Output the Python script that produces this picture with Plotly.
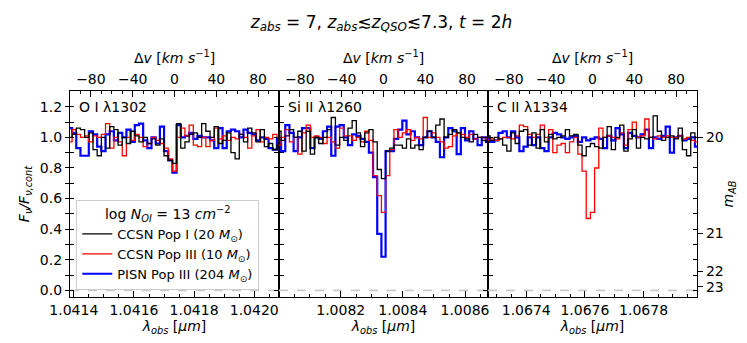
import plotly.graph_objects as go

# --- DATA ---
Z_ABS = 7
LINES = ["O I λ1302", "Si II λ1260", "C II λ1334"]
REST_WAVE = [1302.1685, 1260.4221, 1334.5323]  # Angstrom
VEL = list(range(-104, 105, 4))  # km/s, bin centres

OI_POP1 = [0.94, 1.00, 1.02, 1.06, 1.05, 1.00, 1.03, 0.92, 0.88, 1.00, 0.93, 1.07, 1.05, 0.95, 1.00, 0.96, 1.04, 1.01,
           0.97, 1.00, 0.96, 0.99, 0.95, 0.99, 0.88, 0.85, 0.83,
           1.09, 0.93, 0.97, 1.02, 1.03, 1.00, 1.09, 1.04, 1.00, 1.07, 0.96, 0.98, 1.03, 0.90, 0.86, 1.02, 0.97, 1.06,
           1.03, 0.97, 1.05, 0.94, 0.96, 0.92, 0.95, 0.93]
OI_POP3 = [1.00, 0.97, 1.05, 1.02, 1.00, 1.01, 0.97, 1.01, 1.00, 1.02, 1.09, 0.93, 1.00, 0.97, 0.88, 1.00, 0.98, 1.02,
           1.00, 0.94, 0.96, 1.00, 0.98, 0.96, 0.93, 0.86, 0.78,
           1.00, 1.06, 1.01, 1.08, 0.95, 0.94, 1.00, 0.94, 0.98, 1.06, 0.99, 1.01, 0.98, 1.00, 0.99, 1.02, 1.00, 0.93,
           1.01, 1.05, 0.97, 1.00, 0.99, 1.02, 1.00, 0.98]
OI_PISN = [0.98, 1.06, 1.03, 0.93, 0.88, 0.88, 1.04, 1.02, 0.94, 0.91, 1.02, 1.04, 0.98, 1.03, 1.00, 1.05, 0.97, 1.08,
           1.09, 0.98, 0.93, 1.00, 0.96, 1.07, 0.91, 0.85, 0.77,
           1.08, 1.00, 1.01, 1.03, 0.99, 1.01, 1.00, 1.00, 0.98, 0.93, 1.06, 0.93, 1.04, 1.05, 1.04, 1.00, 1.05, 1.03,
           1.02, 0.98, 1.00, 0.99, 0.93, 0.92, 0.99, 0.95]

SI_POP1 = [1.00, 1.04, 0.98, 1.01, 1.05, 1.00, 1.04, 0.91, 1.04, 0.89, 1.00, 0.96, 1.00, 1.05, 1.13, 0.95, 1.00, 0.98,
           1.06, 1.11, 1.03, 0.94, 1.03, 1.05, 0.97, 0.79, 0.73,
           0.91, 0.93, 0.95, 0.95, 0.93, 0.99, 0.93, 0.95, 0.92, 1.00, 1.04, 1.00, 1.08, 1.12, 1.00, 1.02, 1.05, 1.03,
           1.00, 0.99, 0.97, 1.02, 1.00, 0.98, 0.97, 1.00]
SI_POP3 = [0.98, 0.95, 1.00, 1.05, 0.97, 1.00, 0.89, 1.03, 1.08, 1.00, 1.01, 1.00, 0.96, 1.00, 0.97, 0.93, 1.06, 1.01,
           1.01, 0.98, 1.00, 0.97, 1.04, 0.98, 0.75, 0.62, 0.51,
           0.75, 0.92, 1.05, 1.00, 1.03, 1.05, 0.98, 1.00, 0.99, 1.13, 1.00, 1.03, 1.00, 0.97, 0.93, 0.94, 1.01, 1.03,
           1.02, 1.00, 1.02, 0.99, 1.00, 1.00, 0.99, 1.01]
SI_PISN = [1.05, 0.98, 0.91, 1.08, 1.03, 0.91, 1.00, 1.06, 1.06, 0.93, 1.00, 0.99, 1.04, 1.07, 0.88, 1.07, 1.08, 1.00,
           0.95, 1.02, 1.01, 0.99, 0.97, 0.90, 0.74, 0.37, 0.22,
           0.91, 0.91, 0.99, 1.05, 1.11, 1.02, 1.04, 1.00, 0.95, 1.00, 1.04, 1.00, 0.97, 0.87, 1.00, 1.06, 1.04, 0.89,
           1.06, 0.98, 1.04, 0.99, 0.95, 1.00, 0.97, 0.98]

CII_POP1 = [0.95, 1.01, 0.98, 1.00, 0.99, 0.95, 0.91, 1.03, 0.96, 1.04, 1.05, 0.95, 1.03, 0.93, 1.05, 0.97, 1.02, 0.99,
            1.00, 1.01, 1.05, 1.01, 1.02, 0.95, 0.88, 0.94, 0.96,
            0.94, 0.93, 1.00, 1.07, 0.92, 1.00, 1.08, 0.91, 0.99, 1.05, 0.93, 1.00, 0.99, 1.00, 1.14, 1.04, 0.98, 1.00,
            1.01, 0.99, 1.06, 0.92, 0.88, 1.03, 1.00, 0.98]
CII_POP3 = [1.01, 0.98, 0.99, 0.98, 0.99, 1.00, 1.00, 0.99, 1.01, 1.08, 1.07, 1.02, 1.00, 1.02, 1.08, 1.00, 1.05, 0.90,
            0.95, 0.96, 0.90, 0.97, 1.00, 0.89, 0.78, 0.47, 0.51,
            0.80, 1.06, 1.00, 1.01, 1.00, 0.99, 1.03, 0.95, 1.05, 1.10, 1.00, 1.01, 1.12, 1.00, 0.99, 1.01, 1.00, 1.01,
            1.00, 1.00, 1.01, 0.99, 1.00, 0.98, 0.97, 0.99]
CII_PISN = [1.03, 0.99, 0.97, 0.98, 1.03, 1.04, 1.00, 1.04, 1.00, 0.91, 0.94, 1.00, 0.95, 1.00, 0.93, 0.91, 1.00, 1.03,
            1.02, 1.00, 0.99, 1.00, 1.01, 0.97, 1.00, 0.98, 0.99,
            1.00, 0.99, 0.93, 1.01, 0.98, 1.06, 1.02, 0.93, 1.03, 1.01, 1.00, 1.02, 1.05, 0.93, 1.00, 0.99, 1.01, 1.07,
            0.90, 1.00, 1.01, 0.98, 0.99, 1.00, 0.94, 1.00]

PANELS = [
    {"Pop I": OI_POP1, "Pop III": OI_POP3, "PISN": OI_PISN},
    {"Pop I": SI_POP1, "Pop III": SI_POP3, "PISN": SI_PISN},
    {"Pop I": CII_POP1, "Pop III": CII_POP3, "PISN": CII_PISN},
]
SERIES = [  # drawn bottom -> top
    ("PISN", "PISN Pop III (204 <i>M</i><sub>⊙</sub>)", "#0000ff", 2.2),
    ("Pop III", "CCSN Pop III (10 <i>M</i><sub>⊙</sub>)", "#ff0000", 1.3),
    ("Pop I", "CCSN Pop I (20 <i>M</i><sub>⊙</sub>)", "#000000", 1.3),
]
MAB_TICKS = [20, 21, 22, 23]
MAB_CONT = 20.0
SKY = 0.042  # flux offset used for the magnitude scale

C_KMS = 299792.458
VRANGE = [-100, 100]
YRANGE = [-0.043, 1.303]
FONT = "DejaVu Sans"

fig = go.Figure()


def ax_name(prefix, n):
    return prefix if n == 1 else "%s%d" % (prefix, n)


def dummy(xa, ya):
    # empty trace so that an overlay axis gets drawn
    fig.add_trace(go.Scatter(x=[None], y=[None], xaxis=xa, yaxis=ya, showlegend=False,
                             hoverinfo="skip", mode="lines"))


# --- TRACES (velocity axes x, x2, x3) ---
for i, panel in enumerate(PANELS):
    xa = ax_name("x", i + 1)
    ya = ax_name("y", i + 1)
    for key, name, color, width in SERIES:
        fig.add_trace(go.Scatter(
            x=VEL, y=panel[key], xaxis=xa, yaxis=ya,
            mode="lines", line=dict(color=color, width=width, shape="hvh"),
            name=name, showlegend=(i == 0), legendgroup=key,
        ))
    fig.add_shape(type="line", xref=xa, yref=ya, x0=VRANGE[0], x1=VRANGE[1], y0=0, y1=0,
                  line=dict(color="#cccccc", width=1.6, dash="dash"), layer="below")
    fig.add_annotation(xref="%s domain" % xa, yref=ya, x=0.035, y=1.2, text=LINES[i],
                       showarrow=False, xanchor="left", yanchor="middle",
                       font=dict(size=14, color="black", family=FONT))
    # wavelength axes overlay
    dummy(ax_name("x", i + 4), ya)
dummy("x3", "y4")
dummy("x3", "y5")
dummy("x", "y6")

# --- AXES ---
yticks = [round(0.1 * k, 1) for k in range(13)]
ytext = ["%.1f" % v if k % 2 == 0 else "" for k, v in enumerate(yticks)]
third = 1 / 3
domains = [[0, third], [third, 2 * third], [2 * third, 1]]

axis_common = dict(showgrid=False, zeroline=False, showline=True, linecolor="black", linewidth=1.2,
                   tickcolor="black", tickwidth=1, tickfont=dict(size=14, family=FONT, color="black"))

layout_axes = {}
for i in range(3):
    lam_c = REST_WAVE[i] * (1 + Z_ABS) / 1e4
    lam_range = [lam_c * (1 + VRANGE[0] / C_KMS), lam_c * (1 + VRANGE[1] / C_KMS)]
    ya = ax_name("y", i + 1)
    layout_axes[ax_name("xaxis", i + 1)] = dict(
        axis_common, domain=domains[i], anchor=ya, side="top",
        range=VRANGE, tickvals=[-80, -40, 0, 40, 80], ticktext=["−80", "−40", "0", "40", "80"],
        ticks="inside", ticklen=6,
        minor=dict(dtick=10, tick0=0, ticks="inside", ticklen=3, tickcolor="black"),
        title=dict(text="Δ<i>v</i> [<i>km s</i><sup>−1</sup>]", font=dict(size=14, family=FONT), standoff=4),
    )
    layout_axes[ax_name("xaxis", i + 4)] = dict(
        axis_common, overlaying=ax_name("x", i + 1), anchor=ya, side="bottom", range=lam_range,
        tick0=1.0, dtick=0.0002, tickformat=".4f", ticks="inside", ticklen=6,
        minor=dict(dtick=0.00005, tick0=1.0, ticks="inside", ticklen=3, tickcolor="black"),
        title=dict(text="<i>λ<sub>obs</sub></i> [<i>μm</i>]", font=dict(size=14, family=FONT), standoff=4),
    )

layout_axes["yaxis"] = dict(axis_common, anchor="x", range=YRANGE, tickvals=yticks, ticktext=ytext,
                            ticks="outside", ticklen=4, mirror="ticks",
                            title=dict(text="<i>F<sub>ν</sub>/F<sub>ν,cont</sub></i>",
                                       font=dict(size=14, family=FONT), standoff=6))
layout_axes["yaxis2"] = dict(axis_common, anchor="x2", range=YRANGE, tickvals=yticks,
                             showticklabels=False, ticks="outside", ticklen=4, mirror="ticks")
layout_axes["yaxis3"] = dict(axis_common, anchor="x3", range=YRANGE, tickvals=yticks,
                             showticklabels=False, ticks="outside", ticklen=4, mirror=True)
# m_AB scale on the right
mab_pos = [(1 + SKY) * 10 ** (-0.4 * (m - MAB_CONT)) - SKY for m in MAB_TICKS]
layout_axes["yaxis4"] = dict(axis_common, overlaying="y3", anchor="x3", side="right", range=YRANGE,
                             tickvals=mab_pos, ticktext=[str(m) for m in MAB_TICKS],
                             ticks="outside", ticklen=5,
                             title=dict(text="<i>m<sub>AB</sub></i>", font=dict(size=14, family=FONT), standoff=0))
layout_axes["yaxis5"] = dict(axis_common, overlaying="y3", anchor="x3", side="right", range=YRANGE,
                             tickvals=yticks, showticklabels=False, ticks="inside", ticklen=4)
layout_axes["yaxis6"] = dict(axis_common, overlaying="y", anchor="x", side="left", range=YRANGE,
                             tickvals=yticks, showticklabels=False, ticks="inside", ticklen=4)

fig.update_layout(**layout_axes)

fig.update_layout(
    width=747, height=343,
    margin=dict(l=62, r=58, t=83, b=54),
    plot_bgcolor="white", paper_bgcolor="white",
    font=dict(family=FONT, color="black", size=14),
    title=dict(text="<i>z<sub>abs</sub></i> = 7, <i>z<sub>abs</sub></i>≲<i>z<sub>QSO</sub></i>≲7.3, <i>t</i> = 2<i>h</i>",
               x=0.5, xanchor="center", y=0.96, yanchor="middle", font=dict(size=17, family=FONT)),
    legend=dict(
        x=0.01, y=0.035, xanchor="left", yanchor="bottom", traceorder="reversed",
        bgcolor="rgba(255,255,255,0.85)", bordercolor="#cccccc", borderwidth=1,
        font=dict(size=13, family=FONT), itemwidth=30, tracegroupgap=0,
        title=dict(text="log <i>N<sub>OI</sub></i> = 13 <i>cm</i><sup>−2</sup>", side="top center",
                   font=dict(size=14, family=FONT)),
    ),
    showlegend=True,
)

fig.write_html("out.html")
